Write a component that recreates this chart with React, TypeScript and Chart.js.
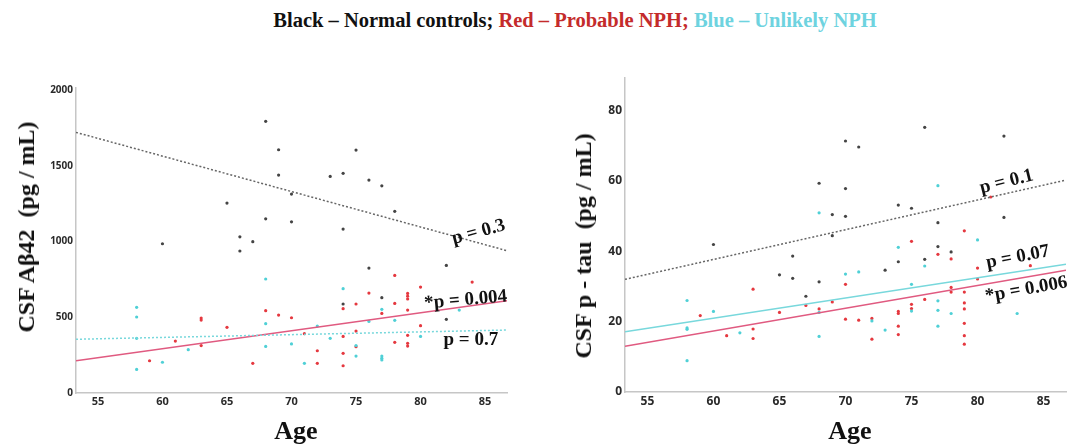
import React, { useEffect, useRef } from "react";
import { Chart, registerables } from "chart.js";

Chart.register(...registerables);

// ---------- data ----------
const ageTicks = [55, 60, 65, 70, 75, 80, 85];
const abTicks = [0, 500, 1000, 1500, 2000];
const tauTicks = [0, 20, 40, 60, 80];

// Left panel: CSF Aβ42
const ageBlkL = [68, 69, 69, 65, 68, 60, 66, 67, 66, 70, 75, 73, 74, 76, 77, 70, 74, 78, 76, 82, 74, 77, 82];
const valBlkL = [1795, 1607, 1440, 1255, 1151, 986, 1032, 1000, 938, 1131, 1605, 1431, 1451, 1407, 1369, 1314, 1083, 1200, 825, 843, 588, 630, 487];

const ageRedL = [59, 61, 63, 63, 63, 65, 67, 68, 69, 70, 71, 72, 72, 74, 74, 74, 74, 75, 75, 75, 76, 77, 78, 78, 78, 79, 79, 79, 79, 79, 79, 79, 80, 80, 84];
const valRedL = [213, 343, 495, 482, 313, 434, 196, 544, 515, 497, 392, 279, 196, 557, 374, 262, 180, 588, 409, 306, 660, 526, 777, 592, 335, 658, 640, 621, 548, 381, 328, 310, 700, 445, 733];

const ageCyanL = [58, 58, 58, 58, 60, 62, 68, 68, 68, 70, 71, 72, 73, 74, 75, 75, 76, 77, 77, 77, 77, 78, 80, 83];
const valCyanL = [566, 502, 361, 156, 203, 286, 753, 458, 308, 324, 196, 442, 361, 689, 313, 244, 473, 553, 244, 230, 218, 480, 374, 548];

const trendAgeL = [53.3, 86.7];
const trendBlkL = [1722, 940];
const trendRedL = [213, 610];
const trendCyanL = [355, 416];

// Right panel: CSF p-tau
const ageBlkR = [68, 60, 66, 65, 66, 68, 67, 70, 71, 76, 82, 70, 69, 70, 74, 75, 69, 77, 82, 77, 78, 76, 74, 73];
const valBlkR = [59.3, 41.9, 38.6, 33.3, 32.3, 31.3, 27.2, 71.3, 69.6, 75.2, 72.7, 57.8, 50.4, 49.9, 53.1, 52.2, 44.4, 48.1, 49.6, 41.3, 39.8, 37.7, 37.0, 34.6];

const ageRedR = [59, 61, 63, 63, 63, 65, 67, 68, 81, 79, 75, 77, 78, 80, 80, 84, 70, 69, 76, 78, 78, 79, 79, 79, 79, 79, 79, 75, 75, 74, 74, 74, 74, 72, 72, 71, 70];
const valRedR = [21.7, 16.0, 29.2, 17.9, 15.2, 22.6, 24.6, 23.6, 55.4, 45.8, 42.8, 39.1, 37.8, 35.2, 32.1, 35.9, 30.6, 25.6, 26.3, 29.7, 28.4, 28.4, 25.3, 23.6, 19.5, 16.0, 13.6, 24.9, 23.7, 22.9, 22.3, 18.7, 16.3, 20.9, 15.0, 20.4, 20.7];

const ageCyanR = [58, 58, 58, 58, 60, 62, 68, 68, 68, 77, 74, 80, 70, 71, 76, 75, 72, 73, 75, 77, 77, 77, 78, 83];
const valCyanR = [26.0, 18.2, 17.8, 8.9, 22.9, 16.8, 15.8, 22.6, 50.9, 58.6, 41.1, 43.2, 33.5, 34.1, 35.8, 30.6, 20.2, 17.6, 23.0, 25.9, 23.2, 18.7, 22.3, 22.3];

const trendAgeR = [53.3, 86.7];
const trendBlkR = [32.0, 60.2];
const trendRedR = [13.0, 34.6];
const trendCyanR = [17.1, 36.3];

// p-value annotations (text, age, value, rotation deg)
const notesL = [
  { text: "p = 0.3", x: 84.5, y: 1063, rot: -15 },
  { text: "*p = 0.004", x: 83.5, y: 614, rot: -5 },
  { text: "p = 0.7", x: 83.9, y: 350, rot: 0 },
];
const notesR = [
  { text: "p = 0.1", x: 82.2, y: 59.7, rot: -14 },
  { text: "p = 0.07", x: 83.05, y: 38.3, rot: -11 },
  { text: "*p = 0.006", x: 83.7, y: 29.1, rot: -10 },
];

// ---------- styles ----------
const BLK = "#444444";
const RED = "#e5383f";
const CYAN = "#4fd0d6";
const RED_LINE = "#e05a80";
const CYAN_LINE = "#78d8dc";
const BLK_LINE = "#666666";

const zip = (xs: number[], ys: number[]) => xs.map((x, i) => ({ x, y: ys[i] }));

const notePlugin = (notes: { text: string; x: number; y: number; rot: number }[]) => ({
  id: "notes",
  afterDatasetsDraw(chart: any) {
    const { ctx, scales } = chart;
    ctx.save();
    ctx.font = "bold 19px 'Liberation Serif', 'Times New Roman', serif";
    ctx.fillStyle = "#111";
    ctx.textAlign = "center";
    ctx.textBaseline = "middle";
    for (const n of notes) {
      const px = scales.x.getPixelForValue(n.x);
      const py = scales.y.getPixelForValue(n.y);
      ctx.save();
      ctx.translate(px, py);
      ctx.rotate((n.rot * Math.PI) / 180);
      ctx.fillText(n.text, 0, 0);
      ctx.restore();
    }
    ctx.restore();
  },
});

type PanelProps = {
  width: number;
  height: number;
  padTop: number;
  padRight: number;
  yAxisW: number;
  xAxisH: number;
  yMax: number;
  yTicks: number[];
  yTickSize: number;
  xTickSize: number;
  blk: { x: number; y: number }[];
  red: { x: number; y: number }[];
  cyan: { x: number; y: number }[];
  tBlk: { x: number; y: number }[];
  tRed: { x: number; y: number }[];
  tCyan: { x: number; y: number }[];
  cyanDash: number[];
  notes: { text: string; x: number; y: number; rot: number }[];
};

function Panel(p: PanelProps) {
  const ref = useRef<HTMLCanvasElement | null>(null);
  useEffect(() => {
    if (!ref.current) return;
    const pt = (data: any[], color: string) => ({
      type: "scatter" as const,
      data,
      backgroundColor: color,
      borderColor: color,
      borderWidth: 0,
      pointRadius: 1.6,
      pointHoverRadius: 1.6,
    });
    const ln = (data: any[], color: string, dash: number[]) => ({
      type: "line" as const,
      data,
      borderColor: color,
      borderWidth: 1.5,
      borderDash: dash,
      pointRadius: 0,
      fill: false,
      showLine: true,
    });
    const tickFont = (size: number) => ({ family: "'Open Sans', 'DejaVu Sans', sans-serif", size, weight: "bold" as const });
    const chart = new Chart(ref.current, {
      type: "scatter",
      data: {
        datasets: [
          ln(p.tBlk, BLK_LINE, [2, 2]),
          ln(p.tCyan, CYAN_LINE, p.cyanDash),
          ln(p.tRed, RED_LINE, []),
          pt(p.blk, BLK),
          pt(p.cyan, CYAN),
          pt(p.red, RED),
        ] as any,
      },
      options: {
        responsive: false,
        animation: false,
        devicePixelRatio: 1,
        layout: { padding: { top: p.padTop, right: p.padRight, left: 0, bottom: 0 } },
        plugins: { legend: { display: false }, tooltip: { enabled: false } },
        scales: {
          x: {
            type: "linear",
            min: trendAgeL[0],
            max: trendAgeL[1],
            grid: { display: false, drawTicks: false },
            border: { display: true, color: "#c6c6c6", width: 1.5 },
            ticks: { font: tickFont(p.xTickSize), color: "#2a2a2a", padding: 2, callback: (v: any) => String(v) },
            afterBuildTicks: (s: any) => {
              s.ticks = ageTicks.map((v) => ({ value: v }));
            },
            afterFit: (s: any) => {
              s.height = p.xAxisH;
            },
          },
          y: {
            type: "linear",
            min: 0,
            max: p.yMax,
            grid: { display: false, drawTicks: false },
            border: { display: true, color: "#c6c6c6", width: 1.5 },
            ticks: { font: tickFont(p.yTickSize), color: "#2a2a2a", padding: 3, callback: (v: any) => String(v) },
            afterBuildTicks: (s: any) => {
              s.ticks = p.yTicks.map((v) => ({ value: v }));
            },
            afterFit: (s: any) => {
              s.width = p.yAxisW;
            },
          },
        },
      } as any,
      plugins: [notePlugin(p.notes)],
    });
    return () => chart.destroy();
  }, []);
  return <canvas ref={ref} width={p.width} height={p.height} style={{ display: "block", width: p.width, height: p.height }} />;
}

const serif = "'Liberation Serif', 'Times New Roman', serif";

export default function App() {
  return (
    <div style={{ position: "fixed", left: 0, top: 0, width: 1077, height: 444, background: "#fff", overflow: "hidden" }}>
      <div style={{ position: "absolute", left: 0, top: 8, width: 1150, textAlign: "center", font: `bold 20.5px ${serif}`, lineHeight: "24px", whiteSpace: "pre" }}>
        <span style={{ color: "#111" }}>Black – Normal controls; </span>
        <span style={{ color: "#c42b2b" }}>Red – Probable NPH; </span>
        <span style={{ color: "#6ed3df" }}>Blue – Unlikely NPH</span>
      </div>
      <div style={{ position: "absolute", left: 0, top: 0 }}>
        <Panel
          width={540}
          height={444}
          padTop={88}
          padRight={33}
          yAxisW={76}
          xAxisH={51}
          yMax={2015}
          yTicks={abTicks}
          yTickSize={10}
          xTickSize={11}
          blk={zip(ageBlkL, valBlkL)}
          red={zip(ageRedL, valRedL)}
          cyan={zip(ageCyanL, valCyanL)}
          tBlk={zip(trendAgeL, trendBlkL)}
          tRed={zip(trendAgeL, trendRedL)}
          tCyan={zip(trendAgeL, trendCyanL)}
          cyanDash={[2, 2]}
          notes={notesL}
        />
      </div>
      <div style={{ position: "absolute", left: 540, top: 0 }}>
        <Panel
          width={537}
          height={444}
          padTop={78}
          padRight={11}
          yAxisW={85}
          xAxisH={52}
          yMax={89.2}
          yTicks={tauTicks}
          yTickSize={12}
          xTickSize={12}
          blk={zip(ageBlkR, valBlkR)}
          red={zip(ageRedR, valRedR)}
          cyan={zip(ageCyanR, valCyanR)}
          tBlk={zip(trendAgeR, trendBlkR)}
          tRed={zip(trendAgeR, trendRedR)}
          tCyan={zip(trendAgeR, trendCyanR)}
          cyanDash={[]}
          notes={notesR}
        />
      </div>
      <div style={{ position: "absolute", left: 26, top: 227, transform: "translate(-50%, -50%) rotate(-90deg)", font: `bold 24px ${serif}`, lineHeight: "26px", whiteSpace: "pre", color: "#111" }}>
        CSF Aβ42  (pg / mL)
      </div>
      <div style={{ position: "absolute", left: 583, top: 246, transform: "translate(-50%, -50%) rotate(-90deg)", font: `bold 24px ${serif}`, lineHeight: "26px", whiteSpace: "pre", color: "#111" }}>
        CSF p - tau  (pg / mL)
      </div>
      <div style={{ position: "absolute", left: 296, top: 431, transform: "translate(-50%, -50%)", font: `bold 26px ${serif}`, lineHeight: "26px", color: "#111" }}>Age</div>
      <div style={{ position: "absolute", left: 850, top: 431, transform: "translate(-50%, -50%)", font: `bold 26px ${serif}`, lineHeight: "26px", color: "#111" }}>Age</div>
    </div>
  );
}
